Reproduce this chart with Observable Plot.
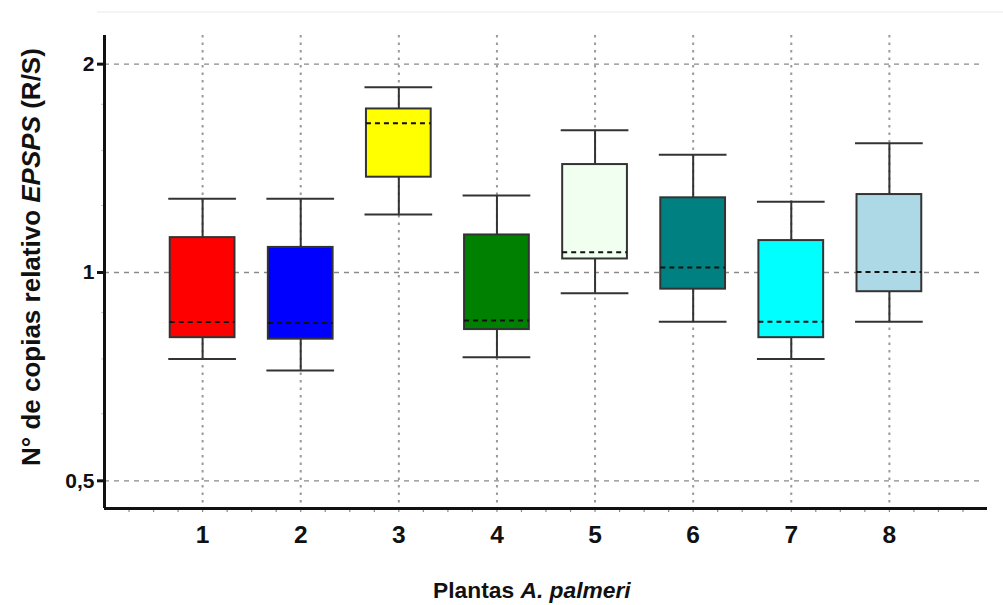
<!DOCTYPE html>
<html><head><meta charset="utf-8">
<script src="https://cdn.jsdelivr.net/npm/d3@7"></script>
<script src="https://cdn.jsdelivr.net/npm/@observablehq/plot@0.6"></script>
<style>
body{margin:0;background:#fff}
#chart svg{display:block}
</style>
</head><body><div id="chart"></div>
<script>
// ---- data ----
const plants = [1, 2, 3, 4, 5, 6, 7, 8];
const q1 = [0.805, 0.801, 1.373, 0.827, 1.046, 0.946, 0.805, 0.938];
const q3 = [1.123, 1.087, 1.723, 1.133, 1.432, 1.282, 1.112, 1.296];
const medians = [0.848, 0.845, 1.643, 0.852, 1.070, 1.017, 0.849, 1.002];
const whiskerLow = [0.750, 0.722, 1.213, 0.754, 0.933, 0.849, 0.750, 0.849];
const whiskerHigh = [1.278, 1.278, 1.852, 1.292, 1.605, 1.480, 1.265, 1.537];
const colors = ["#ff0000", "#0000ff", "#ffff00", "#008000", "#f0fff0", "#008080", "#00ffff", "#add8e6"];
const yTicks = [0.5, 1, 2];
const yTickLabels = ["0,5", "1", "2"];
const yMinorTicks = [0.625, 0.75, 0.875, 1.25, 1.5, 1.75];
const xTickLabels = ["1", "2", "3", "4", "5", "6", "7", "8"];
const xMinorTicks = d3.range(0.25, 9, 0.25).filter(v => v % 1 !== 0);
const yTitleParts = [["N° de copias relativo ", "normal"], ["EPSPS", "italic"], [" (R/S)", "normal"]];
const xTitleParts = [["Plantas ", "normal"], ["A. palmeri", "italic"]];

const table = plants.map((p, i) => ({
  plant: p, q1: q1[i], q3: q3[i], med: medians[i],
  lo: whiskerLow[i], hi: whiskerHigh[i], color: colors[i]
}));

const xDomain = [0, 9];
const yDomain = [0.456, 2.2];
const boxHalf = 0.33, capHalf = 0.345;
const boxStroke = "#333";

const chart = Plot.plot({
  width: 1003, height: 605,
  marginTop: 35, marginBottom: 97, marginLeft: 104, marginRight: 16,
  style: {fontFamily: "'Liberation Sans', Arial, sans-serif", fontWeight: "bold", color: "#111", background: "#fff"},
  x: {type: "linear", domain: xDomain, axis: null},
  y: {type: "log", base: 2, domain: yDomain, axis: null},
  color: {type: "identity"},
  marks: [
    // grid
    Plot.ruleY(yTicks, {x1: () => xDomain[0], x2: () => 8.95, stroke: "#8a8a8a", strokeWidth: 1.3, strokeDasharray: "5,5"}),
    Plot.ruleX(plants, {stroke: "#9a9a9a", strokeWidth: 2, strokeDasharray: "2.5,5"}),
    // whiskers
    Plot.ruleX(table, {x: "plant", y1: "lo", y2: "q1", stroke: boxStroke, strokeWidth: 2}),
    Plot.ruleX(table, {x: "plant", y1: "q3", y2: "hi", stroke: boxStroke, strokeWidth: 2}),
    Plot.ruleY(table, {y: "lo", x1: d => d.plant - capHalf, x2: d => d.plant + capHalf, stroke: boxStroke, strokeWidth: 2}),
    Plot.ruleY(table, {y: "hi", x1: d => d.plant - capHalf, x2: d => d.plant + capHalf, stroke: boxStroke, strokeWidth: 2}),
    // boxes
    Plot.rect(table, {x1: d => d.plant - boxHalf, x2: d => d.plant + boxHalf, y1: "q1", y2: "q3", fill: "color", stroke: boxStroke, strokeWidth: 2}),
    // medians
    Plot.ruleY(table, {y: "med", x1: d => d.plant - boxHalf, x2: d => d.plant + boxHalf, stroke: "#111", strokeWidth: 2, strokeDasharray: "5,4"}),
    // axes
    Plot.axisY({ticks: yMinorTicks, tickSize: 3, tickFormat: () => "", label: null, stroke: "#c8c8c8", strokeWidth: 1}),
    Plot.axisY({ticks: yTicks, tickSize: 7, tickPadding: 3, label: null, fontSize: 21, tickFormat: (d) => yTickLabels[yTicks.indexOf(d)], stroke: "#111", strokeWidth: 3}),
    Plot.axisX({ticks: xMinorTicks.concat(plants), tickSize: 4, label: null, tickFormat: () => "", stroke: "#888", strokeWidth: 1.2}),
    Plot.axisX({ticks: plants, tickSize: 0, tickPadding: 17, label: null, fontSize: 24.5, tickFormat: (d) => xTickLabels[plants.indexOf(d)]}),
    Plot.ruleX([xDomain[0]], {stroke: "#111", strokeWidth: 3}),
    Plot.ruleY([yDomain[0]], {stroke: "#111", strokeWidth: 3})
  ]
});

document.getElementById("chart").appendChild(chart);

const svg = d3.select(chart);

// faint top border line
svg.append("line").attr("x1", 97).attr("x2", 1003).attr("y1", 12).attr("y2", 12)
  .attr("stroke", "#f0f0f0").attr("stroke-width", 1.5);

// axis titles
const yt = svg.append("text")
  .attr("transform", "translate(40,466) rotate(-90)")
  .attr("text-anchor", "start")
  .style("font-size", "26px").attr("font-weight", "bold").attr("fill", "#111");
yTitleParts.forEach(([t, s]) => yt.append("tspan").attr("font-style", s).text(t));

const xt = svg.append("text")
  .attr("x", 433).attr("y", 598)
  .attr("text-anchor", "start")
  .style("font-size", "22.8px").attr("font-weight", "bold").attr("fill", "#111");
xTitleParts.forEach(([t, s]) => xt.append("tspan").attr("font-style", s).text(t));
</script>
</body></html>
